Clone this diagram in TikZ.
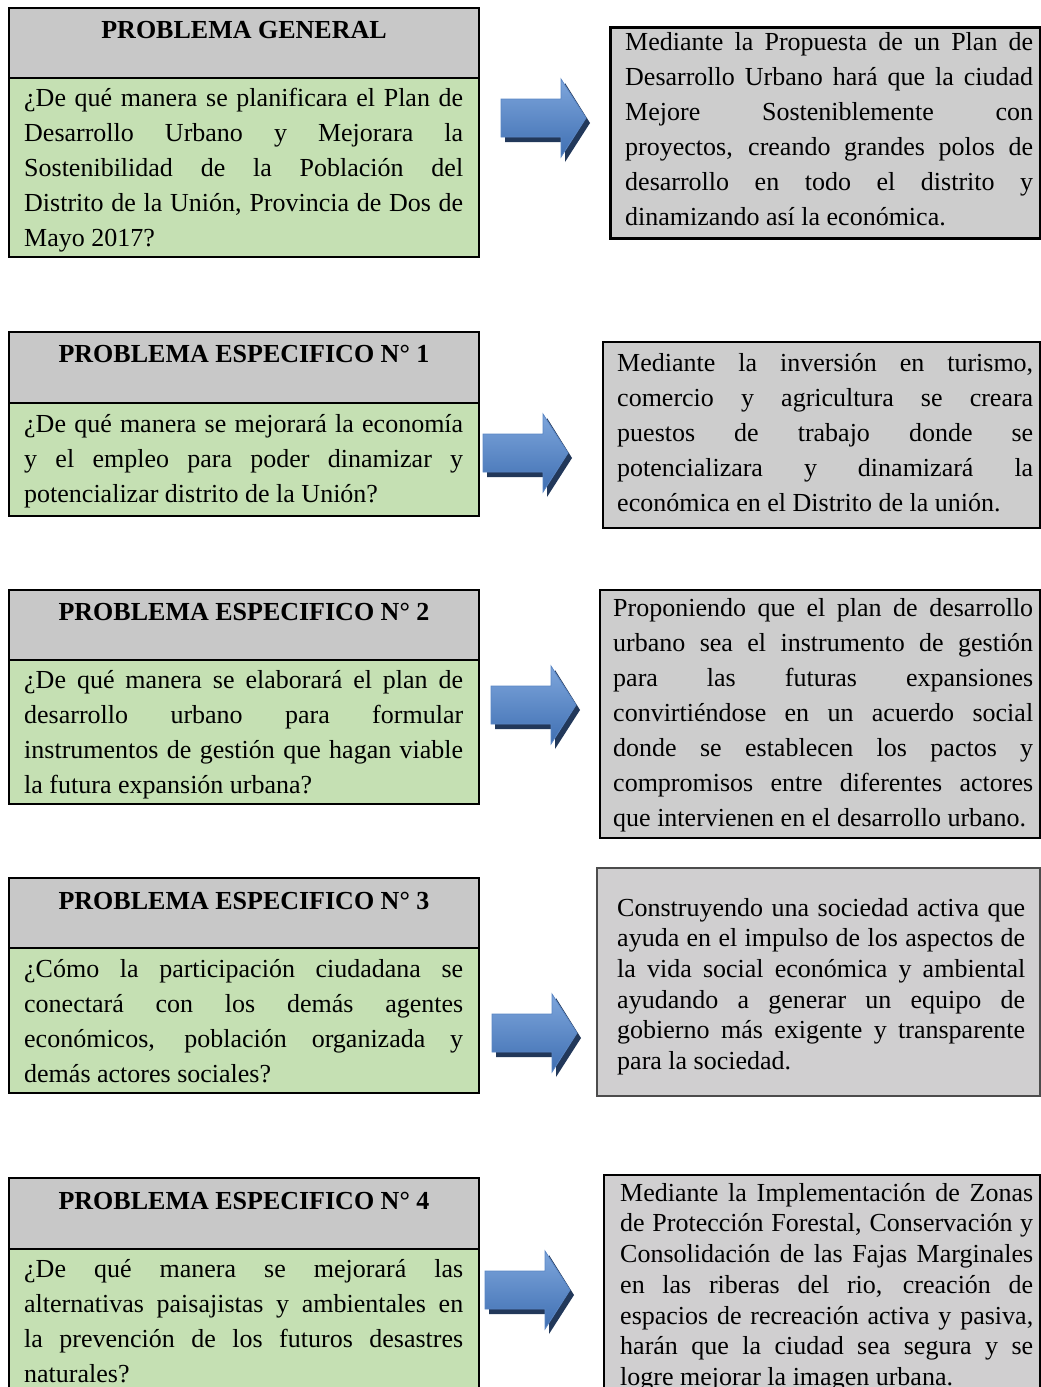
\documentclass[tikz,border=0pt]{standalone}
\usepackage{fontspec}
\setmainfont{Liberation Serif}
\usetikzlibrary{positioning}
\setlength\parindent{0pt}
\tolerance=9999
\hbadness=10000
\definecolor{grisA}{HTML}{C8C8C8}
\definecolor{grisB}{HTML}{CDCDCD}
\definecolor{grisC}{HTML}{D0CFD0}
\definecolor{verde}{HTML}{C5E0B3}
\definecolor{azulA}{HTML}{7EA6DC}
\definecolor{azulB}{HTML}{3F6FB2}
\definecolor{azulC}{HTML}{5A86C4}
\definecolor{azulS}{HTML}{22385A}
\tikzset{
  cabecera/.style={fill=grisA,draw=black,line width=2.5pt},
  verdecaja/.style={fill=verde,draw=black,line width=2.5pt},
  respcaja/.style={fill=grisB,draw=black,line width=2.5pt},
  titulo/.style={anchor=base,inner sep=0pt,font=\fontsize{26}{35}\selectfont\bfseries},
  pregunta/.style={anchor=north west,inner sep=0pt,text width=439pt,align=justify,
    font=\fontsize{26}{35}\selectfont},
  respuesta/.style={anchor=north west,inner sep=0pt,align=justify,
    font=\fontsize{26}{35}\selectfont},
  flecha/.pic={
    \fill[azulS] (4,-14) -- (64,-14) -- (64,-35) -- (89,5) -- (64,44) -- (64,24) -- (4,24) -- cycle;
    \draw[top color=azulA,bottom color=azulB,draw=azulC,line width=0.8pt]
      (0,-19) -- (60,-19) -- (60,-39) -- (85,0) -- (60,39) -- (60,19) -- (0,19) -- cycle;
  }
}

\begin{document}
\begin{tikzpicture}[x=1pt,y=-1pt]
\useasboundingbox[fill=white] (0,0) rectangle (1041,1387);
\clip (0,0) rectangle (1041,1387);

% problema general
\filldraw[cabecera] (9,8) rectangle (479,78);
\filldraw[verdecaja] (9,78) rectangle (479,257);
\node[titulo] (titulo0) at (244,38) {PROBLEMA GENERAL};
\node[pregunta] (pregunta0) at (24,81.5) {\strut ¿De qué manera se planificara el Plan de\linebreak
  Desarrollo Urbano y Mejorara la\linebreak Sostenibilidad de la Población del\linebreak
  Distrito de la Unión, Provincia de Dos de\linebreak Mayo 2017?};
\pic at (501,118) {flecha};
\filldraw[respcaja,line width=3pt] (610,27) rectangle (1040,238);
\node[respuesta,text width=408pt] (respuesta0) at (625,25.5) {\strut Mediante la Propuesta de un Plan de\linebreak
  Desarrollo Urbano hará que la ciudad\linebreak Mejore Sosteniblemente con\linebreak
  proyectos, creando grandes polos de\linebreak desarrollo en todo el distrito y\linebreak
  dinamizando así la económica.};

% problema especifico 1
\filldraw[cabecera] (9,332) rectangle (479,403);
\filldraw[verdecaja] (9,403) rectangle (479,516);
\node[titulo] (titulo1) at (244,362) {PROBLEMA ESPECIFICO N° 1};
\node[pregunta] (pregunta1) at (24,407.5) {\strut ¿De qué manera se mejorará la economía\linebreak
  y el empleo para poder dinamizar y\linebreak potencializar distrito de la Unión?};
\pic at (483,453) {flecha};
\filldraw[respcaja,line width=2pt] (603,342) rectangle (1040,528);
\node[respuesta,text width=416pt] (respuesta1) at (617,346.5) {\strut Mediante la inversión en turismo,\linebreak
  comercio y agricultura se creara\linebreak puestos de trabajo donde se\linebreak
  potencializara y dinamizará la\linebreak económica en el Distrito de la unión.};

% problema especifico 2
\filldraw[cabecera] (9,590) rectangle (479,660);
\filldraw[verdecaja] (9,660) rectangle (479,804);
\node[titulo] (titulo2) at (244,620) {PROBLEMA ESPECIFICO N° 2};
\node[pregunta] (pregunta2) at (24,663.5) {\strut ¿De qué manera se elaborará el plan de\linebreak
  desarrollo urbano para formular\linebreak instrumentos de gestión que hagan viable\linebreak
  la futura expansión urbana?};
\pic at (491,705) {flecha};
\filldraw[respcaja,line width=2pt] (600,590) rectangle (1040,838);
\node[respuesta,text width=420pt] (respuesta2) at (613,591.5) {\strut Proponiendo que el plan de desarrollo\linebreak
  urbano sea el instrumento de gestión\linebreak para las futuras expansiones\linebreak
  convirtiéndose en un acuerdo social\linebreak donde se establecen los pactos y\linebreak
  compromisos entre diferentes actores\linebreak que intervienen en el desarrollo urbano.};

% problema especifico 3
\filldraw[cabecera] (9,878) rectangle (479,948);
\filldraw[verdecaja] (9,948) rectangle (479,1093);
\node[titulo] (titulo3) at (244,909) {PROBLEMA ESPECIFICO N° 3};
\node[pregunta] (pregunta3) at (24,952.5) {\strut ¿Cómo la participación ciudadana se\linebreak
  conectará con los demás agentes\linebreak económicos, población organizada y\linebreak
  demás actores sociales?};
\pic at (492,1033) {flecha};
\filldraw[fill=grisC,draw=black!70,line width=1.5pt] (597,868) rectangle (1040,1096);
\node[respuesta,text width=408pt,font=\fontsize{26}{30.6}\selectfont] (respuesta3) at (617,894.6)
  {\strut Construyendo una sociedad activa que\linebreak ayuda en el impulso de los aspectos de\linebreak
  la vida social económica y ambiental\linebreak ayudando a generar un equipo de\linebreak
  gobierno más exigente y transparente\linebreak para la sociedad.};

% problema especifico 4
\filldraw[cabecera] (9,1178) rectangle (479,1249);
\filldraw[verdecaja] (9,1249) rectangle (479,1400);
\node[titulo] (titulo4) at (244,1209) {PROBLEMA ESPECIFICO N° 4};
\node[pregunta] (pregunta4) at (24,1252.5) {\strut ¿De qué manera se mejorará las\linebreak
  alternativas paisajistas y ambientales en\linebreak la prevención de los futuros desastres\linebreak
  naturales?};
\pic at (485,1290) {flecha};
\filldraw[respcaja,fill=grisC,line width=2pt] (604,1175) rectangle (1040,1400);
\node[respuesta,text width=413pt,font=\fontsize{26}{30.7}\selectfont] (respuesta4) at (620,1179.5)
  {\strut Mediante la Implementación de Zonas\linebreak de Protección Forestal, Conservación y\linebreak
  Consolidación de las Fajas Marginales\linebreak en las riberas del rio, creación de\linebreak
  espacios de recreación activa y pasiva,\linebreak harán que la ciudad sea segura y se\linebreak
  logre mejorar la imagen urbana.};
\end{tikzpicture}
\end{document}
